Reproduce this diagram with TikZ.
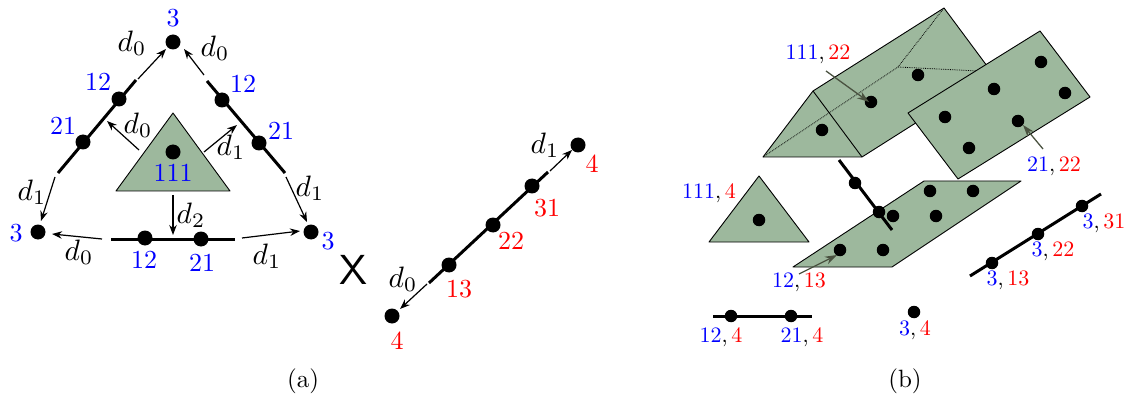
\documentclass[tikz,border=0pt]{standalone}
\usetikzlibrary{arrows.meta}
\definecolor{sage}{HTML}{9DB89D}
\definecolor{darrow}{HTML}{4A5240}
\newcommand{\bl}[1]{\textcolor{blue}{#1}}
\newcommand{\rd}[1]{\textcolor{red}{#1}}
\newcommand{\pair}[2]{\bl{#1},\,\rd{#2}}
\tikzset{
  big/.style={circle,fill=black,inner sep=0pt,minimum size=15pt},
  small/.style={circle,fill=black,inner sep=0pt,minimum size=12.5pt},
  thickline/.style={line width=3pt},
  thickb/.style={line width=3pt},
  thinarrow/.style={line width=1.2pt,-{Stealth[length=10pt,width=7.5pt]}},
  grayarrow/.style={line width=1.3pt,darrow,-{Stealth[length=12pt,width=8pt]}},
  face/.style={draw=black,fill=sage,line width=0.9pt,line join=round},
  hidden/.style={draw=black,line width=0.8pt,densely dotted},
  la/.style={inner sep=0pt,scale=2.6},
  ld/.style={inner sep=0pt,scale=2.95},
  lb/.style={inner sep=0pt,scale=2.2},
  captext/.style={inner sep=0pt,scale=2.5},
}
\begin{document}
\begin{tikzpicture}[x=1pt,y=-1pt]
\useasboundingbox (0,0) rectangle (1129,398);
% ---------- (a) triangle
\coordinate (ta) at (173,113);
\coordinate (tl) at (116,191);
\coordinate (tr) at (230,191);
\draw[face] (ta) -- (tl) -- (tr) -- cycle;
\node[big] (c111) at (173,152) {};
\node[big] (vt) at (173,42) {};
\node[big] (vl) at (38,232) {};
\node[big] (vr) at (311,232) {};
% thick edges
\coordinate (ls) at (136,80); \coordinate (le) at (58,173);
\coordinate (rs) at (207,81); \coordinate (re) at (285,173);
\coordinate (bs) at (111,239); \coordinate (be) at (235,239);
\draw[thickline] (ls) -- (le);
\draw[thickline] (rs) -- (re);
\draw[thickline] (bs) -- (be);
\node[big] (l12) at (119,99) {};
\node[big] (l21) at (83,142) {};
\node[big] (r12) at (222,100) {};
\node[big] (r21) at (259,143) {};
\node[big] (b12) at (145,238) {};
\node[big] (b21) at (201,239) {};
% arrows
\coordinate (a1) at (138,79);  \coordinate (a1e) at (166,49);
\coordinate (a2) at (204,75);  \coordinate (a2e) at (184,49);
\coordinate (a3) at (55,177);  \coordinate (a3e) at (41,221);
\coordinate (a4) at (286,177); \coordinate (a4e) at (307,222);
\coordinate (a5) at (102,239); \coordinate (a5e) at (52,234);
\coordinate (a6) at (242,238); \coordinate (a6e) at (300,231);
\coordinate (a7) at (139,150); \coordinate (a7e) at (107,121);
\coordinate (a8) at (204,152); \coordinate (a8e) at (237,125);
\coordinate (a9) at (173,195); \coordinate (a9e) at (173,235);
\foreach \s/\e in {a1/a1e,a2/a2e,a3/a3e,a4/a4e,a5/a5e,a6/a6e,a7/a7e,a8/a8e,a9/a9e}
  \draw[thinarrow] (\s) -- (\e);
% labels (a)
\node[la] (n1) at (173,18) {\bl{3}};
\node[ld] (n2) at (132,43) {$d_0$};
\node[ld] (n3) at (215,48) {$d_0$};
\node[la] (n4) at (98,82) {\bl{12}};
\node[la] (n5) at (243,84) {\bl{12}};
\node[la] (n6) at (63,126) {\bl{21}};
\node[la] (n7) at (281,131) {\bl{21}};
\node[ld] (n8) at (138,125) {$d_0$};
\node[ld] (n9) at (231,147) {$d_1$};
\node[la] (n10) at (173,173) {\bl{111}};
\node[ld] (n11) at (32,192) {$d_1$};
\node[ld] (n12) at (310,188) {$d_1$};
\node[ld] (n13) at (191,215) {$d_2$};
\node[la] (n14) at (16,233) {\bl{3}};
\node[la] (n15) at (328,241) {\bl{3}};
\node[ld] (n16) at (79,252) {$d_0$};
\node[la] (n17) at (144,260) {\bl{12}};
\node[la] (n18) at (202,263) {\bl{21}};
\node[ld] (n19) at (267,256) {$d_1$};
% X
\node[inner sep=0pt,font=\sffamily,scale=4.2] (times) at (354,270) {X};
% segment
\coordinate (ss) at (548,172); \coordinate (se) at (429,283);
\draw[thickline] (ss) -- (se);
\node[big] (s4a) at (578,145) {};
\node[big] (s31) at (532,186) {};
\node[big] (s22) at (493,225) {};
\node[big] (s13) at (449,265) {};
\node[big] (s4b) at (392,316) {};
\coordinate (s1) at (550,171); \coordinate (s1e) at (572,150);
\coordinate (s2) at (427,284); \coordinate (s2e) at (400,309);
\draw[thinarrow] (s1) -- (s1e);
\draw[thinarrow] (s2) -- (s2e);
\node[ld] (m1) at (545,145) {$d_1$};
\node[la] (m2) at (592,164) {\rd{4}};
\node[la] (m3) at (547,208) {\rd{31}};
\node[la] (m4) at (511,241) {\rd{22}};
\node[la] (m5) at (459,289) {\rd{13}};
\node[ld] (m6) at (403,279) {$d_0$};
\node[la] (m7) at (397,341) {\rd{4}};
\node[captext] (capa) at (303,381) {(a)};
% ---------- (b) prism
\coordinate (pa) at (813,91);
\coordinate (pl) at (763,157);
\coordinate (pr) at (862,157);
\coordinate (qa) at (944,8);
\coordinate (qr) at (993,74);
\coordinate (ql) at (898,67);
\coordinate (qh) at (978,71);
\draw[face] (pl) -- (pa) -- (qa) -- (qr) -- (pr) -- cycle;
\draw[face] (pa) -- (pr);
\draw[hidden] (pl) -- (ql) -- (qa);
\draw[hidden] (ql) -- (qh);
\node[small] (d1) at (822,130) {};
\node[small] (d2) at (871,102) {};
\node[small] (d3) at (918,75) {};
% rectangle
\coordinate (r1) at (1040,31);
\coordinate (r2) at (1090,97);
\coordinate (r3) at (958,179);
\coordinate (r4) at (908,113);
\draw[face] (r1) -- (r2) -- (r3) -- (r4) -- cycle;
\node[small] (e1) at (1041,62) {};
\node[small] (e2) at (1065,93) {};
\node[small] (e3) at (994,89) {};
\node[small] (e4) at (1018,121) {};
\node[small] (e5) at (945,117) {};
\node[small] (e6) at (969,148) {};
% parallelogram
\coordinate (g1) at (924,181);
\coordinate (g2) at (1021,181);
\coordinate (g3) at (892,267);
\coordinate (g4) at (793,267);
\draw[face] (g1) -- (g2) -- (g3) -- (g4) -- cycle;
\node[small] (f1) at (930,191) {};
\node[small] (f2) at (973,191) {};
\node[small] (f3) at (893,216) {};
\node[small] (f4) at (936,216) {};
\node[small] (f5) at (840,250) {};
\node[small] (f6) at (883,250) {};
\coordinate (t1) at (839,160); \coordinate (t2) at (892,230);
\draw[thickb] (t1) -- (t2);
\node[small] (h1) at (855,183) {};
\node[small] (h2) at (879,212) {};
% small triangle
\coordinate (k1) at (759,176);
\coordinate (k2) at (709,242);
\coordinate (k3) at (809,242);
\draw[face] (k1) -- (k2) -- (k3) -- cycle;
\node[small] (k0) at (759,220) {};
% right line
\coordinate (u1) at (970,276); \coordinate (u2) at (1101,194);
\draw[thickb] (u1) -- (u2);
\node[small] (u13) at (992,263) {};
\node[small] (u22) at (1038,234) {};
\node[small] (u31) at (1082,206) {};
% bottom line
\coordinate (w1) at (713,316); \coordinate (w2) at (812,316);
\draw[thickb] (w1) -- (w2);
\node[small] (w12) at (731,316) {};
\node[small] (w21) at (791,316) {};
\node[small] (z) at (914,312) {};
% gray arrows
\coordinate (y1) at (826,71);   \coordinate (y1e) at (869,102);
\coordinate (y2) at (1043,149); \coordinate (y2e) at (1023,125);
\coordinate (y3) at (799,274);  \coordinate (y3e) at (837,255);
\draw[grayarrow] (y1) -- (y1e);
\draw[grayarrow] (y2) -- (y2e);
\draw[grayarrow] (y3) -- (y3e);
% labels (b)
\node[lb] (o1) at (818,54) {\pair{111}{22}};
\node[lb] (o2) at (1054,166) {\pair{21}{22}};
\node[lb] (o3) at (709,193) {\pair{111}{4}};
\node[lb] (o4) at (799,282) {\pair{12}{13}};
\node[lb] (o5) at (1104,223) {\pair{3}{31}};
\node[lb] (o6) at (1053,251) {\pair{3}{22}};
\node[lb] (o7) at (1008,280) {\pair{3}{13}};
\node[lb] (o8) at (721,337) {\pair{12}{4}};
\node[lb] (o9) at (802,337) {\pair{21}{4}};
\node[lb] (o10) at (915,330) {\pair{3}{4}};
\node[captext] (capb) at (905,381) {(b)};
\end{tikzpicture}
\end{document}
